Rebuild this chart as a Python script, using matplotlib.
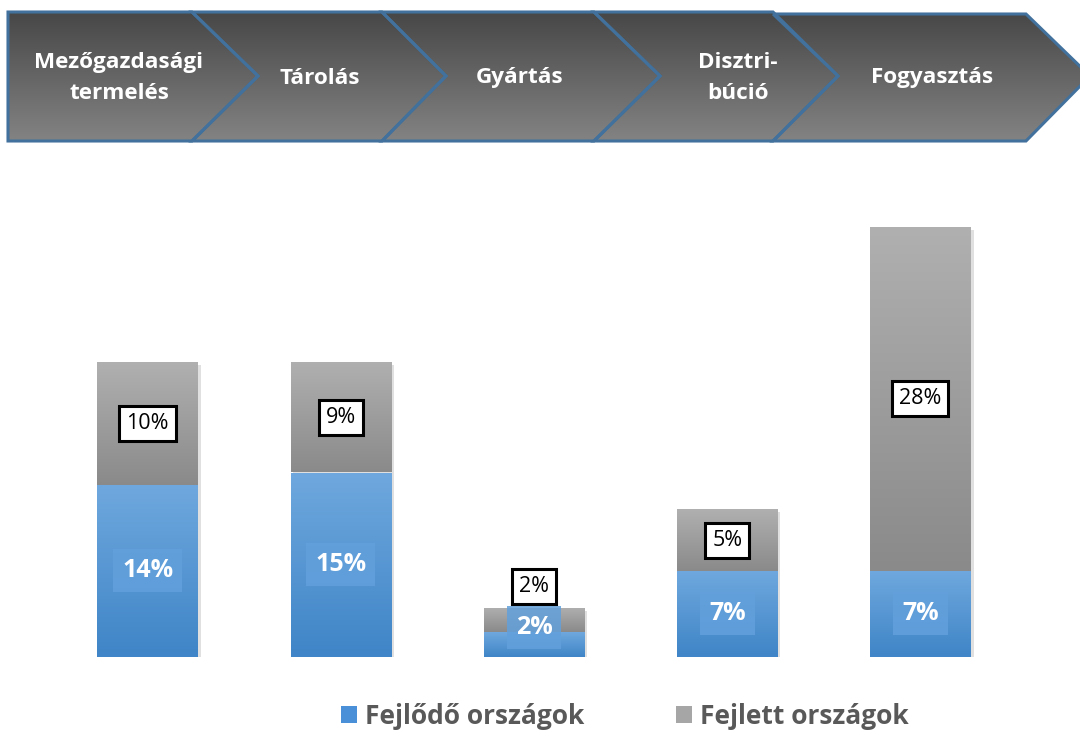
import numpy as np
import matplotlib
matplotlib.use('Agg')
import matplotlib.pyplot as plt
from matplotlib.colors import LinearSegmentedColormap
from matplotlib.patches import Polygon, Rectangle, Patch

plt.rcParams['font.family'] = ['Open Sans', 'DejaVu Sans']

# adatok
szakaszok = ['Mezőgazdasági\ntermelés', 'Tárolás', 'Gyártás', 'Disztri-\nbúció', 'Fogyasztás']
fejlodo = [14, 15, 2, 7, 7]
fejlett = [10, 9, 2, 5, 28]
sorozatok = ['Fejlődő országok', 'Fejlett országok']

W, H = 1080, 731
fig = plt.figure(figsize=(W / 100, H / 100), dpi=100)

# --- nyilak a tetején (pixel koordinátákban) ---
top = fig.add_axes([0, 0, 1, 1])
top.set_xlim(0, W)
top.set_ylim(H, 0)
top.axis('off')

y0, y1, ym = 12, 141, 76
chev = [
    [(8, y0), (192, y0), (258, ym), (192, y1), (8, y1)],
    [(192, y0), (382, y0), (446, ym), (382, y1), (192, y1), (258, ym)],
    [(382, y0), (594, y0), (660, ym), (594, y1), (382, y1), (446, ym)],
    [(594, y0), (773, y0), (838, ym), (773, y1), (594, y1), (660, ym)],
    [(773, y0 + 2), (1026, y0 + 2), (1090, ym), (1026, y1), (773, y1), (838, ym)],
]
text_x = [119, 320, 520, 738, 932]
cm_chev = LinearSegmentedColormap.from_list('chev', ['#474747', '#838383'])
grad = np.linspace(0, 1, 256).reshape(-1, 1)
for pts, lab, tx in zip(chev, szakaszok, text_x):
    poly = Polygon(pts, closed=True, facecolor='none', edgecolor='#41719c', lw=2.2, zorder=3)
    top.add_patch(poly)
    im = top.imshow(grad, cmap=cm_chev, aspect='auto', extent=(0, W, y1, y0), zorder=2)
    im.set_clip_path(poly)
    top.text(tx, ym + 2, lab, color='white', fontsize=16.2, fontweight='bold',
             ha='center', va='center', linespacing=1.6, zorder=4)
top.set_xlim(0, W)
top.set_ylim(H, 0)

# --- oszlopok ---
base_px = 657
unit_px = 12.3
ymax = 36
ax = fig.add_axes([51 / W, (H - base_px) / H, (1017 - 51) / W, ymax * unit_px / H])
ax.set_zorder(5)
ax.patch.set_visible(False)
x = np.arange(len(szakaszok))
width = 0.52

cm_blue = LinearSegmentedColormap.from_list('kek', ['#6fa8de', '#3f85c7'])
cm_gray = LinearSegmentedColormap.from_list('szurke', ['#b0b0b0', '#8a8a8a'])

b1 = ax.bar(x, fejlodo, width, color='none', edgecolor='none')
b2 = ax.bar(x, fejlett, width, bottom=fejlodo, color='none', edgecolor='none')

for rects, cm in [(b1, cm_blue), (b2, cm_gray)]:
    for r in rects:
        bx, by, bw, bh = r.get_x(), r.get_y(), r.get_width(), r.get_height()
        im = ax.imshow(grad, cmap=cm, aspect='auto', extent=(bx, bx + bw, by, by + bh), zorder=2)
        im.set_clip_path(r)

# árnyék
for r1, r2 in zip(b1, b2):
    bx, bw = r1.get_x(), r1.get_width()
    tot = r1.get_height() + r2.get_height()
    ax.add_patch(Rectangle((bx + 0.015, -0.25), bw, tot, facecolor='#000000', alpha=0.12,
                           edgecolor='none', zorder=1))

for i, (a, b) in enumerate(zip(fejlodo, fejlett)):
    if a + b < 6:
        ya, yb = (a + b) * 0.6, a + b + 1.75
    else:
        ya, yb = a / 2, a + b / 2
    ax.text(x[i], ya, f'{a}%', color='white', fontsize=18, fontweight='bold', ha='center',
            va='center', zorder=6,
            bbox=dict(boxstyle='square,pad=0.36', facecolor='#62a0dc', edgecolor='none', alpha=0.85))
    ax.text(x[i], yb, f'{b}%', color='black', fontsize=15.5, ha='center', va='center', zorder=6,
            bbox=dict(boxstyle='square,pad=0.32', facecolor='white', edgecolor='black', lw=2.2))

ax.set_xlim(-0.5, len(szakaszok) - 0.5)
ax.set_ylim(0, ymax)
ax.axis('off')

handles = [Patch(facecolor='#4a90d9', edgecolor='none'), Patch(facecolor='#a6a6a6', edgecolor='none')]
leg = fig.legend(handles, sorozatok, loc='center', bbox_to_anchor=(625 / W, 1 - 716 / H), ncol=2,
                 frameon=False, handlelength=0.6, handleheight=0.6, handletextpad=0.3,
                 columnspacing=3.5, prop={'size': 19, 'weight': 'bold'})
for t in leg.get_texts():
    t.set_color('#595959')

fig.savefig('out.png', dpi=100)
